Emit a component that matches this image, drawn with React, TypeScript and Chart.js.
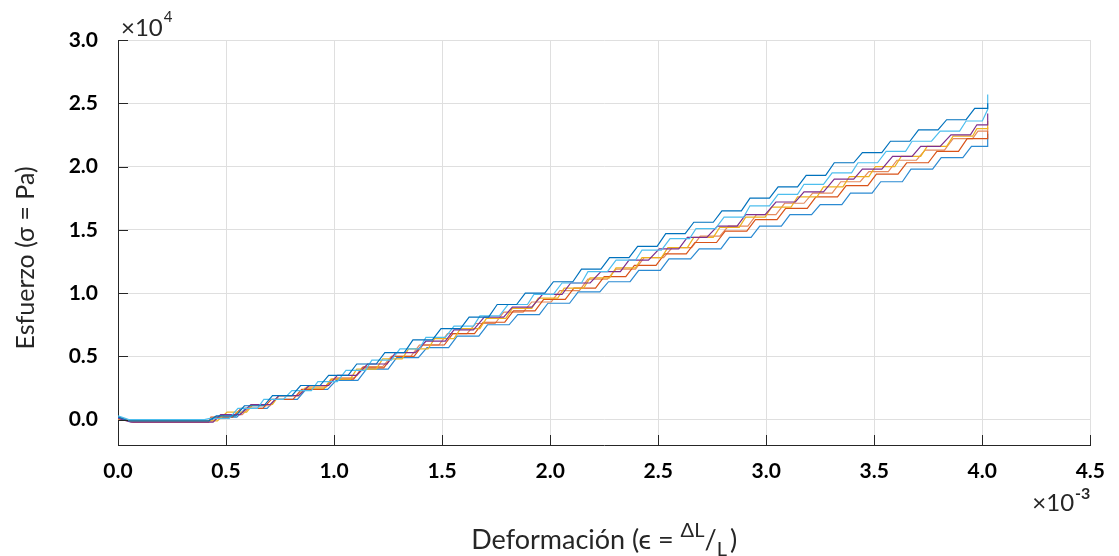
import React, { useEffect, useRef } from 'react';
import { Chart, registerables } from 'chart.js';

Chart.register(...registerables);

// Each step: [strainStart, strainEnd, stress]  (strain in 1e-3, stress in 1e4 Pa)
type Step = [number, number, number];

const seriesLabels = ['Ensayo 1', 'Ensayo 2', 'Ensayo 3', 'Ensayo 4', 'Ensayo 5', 'Ensayo 6', 'Ensayo 7'];
const seriesColors = ['#0072BD', '#4DBEEE', '#7E2F8E', '#EDB120', '#D95319', '#E58A5E', '#2B8AD2'];

const stepsA: Step[] = [
  [0, 0, 0.02], [0.05, 0.42, -0.01],
  [0.455, 0.545, 0.03], [0.585, 0.675, 0.11], [0.715, 0.805, 0.19], [0.845, 0.935, 0.27], [0.975, 1.065, 0.35],
  [1.105, 1.195, 0.44], [1.235, 1.325, 0.53], [1.365, 1.455, 0.63], [1.495, 1.585, 0.72], [1.625, 1.715, 0.81],
  [1.755, 1.845, 0.91], [1.885, 1.975, 1.0], [2.015, 2.105, 1.09], [2.145, 2.235, 1.19], [2.275, 2.365, 1.28],
  [2.405, 2.495, 1.37], [2.535, 2.625, 1.47], [2.665, 2.755, 1.56], [2.795, 2.885, 1.65], [2.925, 3.015, 1.75],
  [3.055, 3.145, 1.84], [3.185, 3.275, 1.93], [3.315, 3.405, 2.03], [3.445, 3.535, 2.11], [3.575, 3.665, 2.2],
  [3.705, 3.795, 2.29], [3.835, 3.925, 2.37], [3.965, 4.025, 2.46], [4.025, 4.025, 2.5],
];

const stepsB: Step[] = [
  [0, 0, 0.03], [0.05, 0.4, 0.0],
  [0.425, 0.515, 0.01], [0.555, 0.645, 0.09], [0.675, 0.765, 0.16], [0.805, 0.895, 0.23], [0.925, 1.015, 0.3],
  [1.055, 1.145, 0.39], [1.175, 1.265, 0.47], [1.305, 1.395, 0.56], [1.425, 1.515, 0.65], [1.555, 1.645, 0.74],
  [1.675, 1.765, 0.82], [1.805, 1.895, 0.91], [1.925, 2.015, 0.99], [2.055, 2.145, 1.08], [2.175, 2.265, 1.17],
  [2.305, 2.395, 1.26], [2.425, 2.515, 1.34], [2.555, 2.645, 1.43], [2.675, 2.765, 1.51], [2.805, 2.895, 1.6],
  [2.925, 3.015, 1.69], [3.055, 3.145, 1.78], [3.175, 3.265, 1.86], [3.305, 3.395, 1.95], [3.425, 3.515, 2.03],
  [3.555, 3.645, 2.12], [3.675, 3.765, 2.2], [3.805, 3.895, 2.28], [3.925, 4.0, 2.36], [4.025, 4.025, 2.45],
  [4.025, 4.025, 2.57],
];

const stepsC: Step[] = [
  [0, 0, 0.01], [0.06, 0.44, -0.02],
  [0.475, 0.565, 0.04], [0.615, 0.705, 0.12], [0.745, 0.835, 0.19], [0.885, 0.975, 0.27], [1.015, 1.105, 0.35],
  [1.155, 1.245, 0.44], [1.285, 1.375, 0.53], [1.425, 1.515, 0.62], [1.555, 1.645, 0.71], [1.695, 1.785, 0.81],
  [1.825, 1.915, 0.89], [1.965, 2.055, 0.99], [2.095, 2.185, 1.08], [2.235, 2.325, 1.17], [2.365, 2.455, 1.26],
  [2.505, 2.595, 1.35], [2.635, 2.725, 1.44], [2.775, 2.865, 1.53], [2.905, 2.995, 1.62], [3.045, 3.135, 1.72],
  [3.175, 3.265, 1.8], [3.315, 3.405, 1.9], [3.445, 3.535, 1.98], [3.585, 3.675, 2.08], [3.715, 3.805, 2.16],
  [3.855, 3.945, 2.25], [3.975, 4.025, 2.33], [4.025, 4.025, 2.42],
];

const stepsD: Step[] = [
  [0, 0, 0.0], [0.06, 0.46, -0.01],
  [0.505, 0.595, 0.06], [0.625, 0.715, 0.12], [0.745, 0.835, 0.19], [0.865, 0.955, 0.25], [0.985, 1.075, 0.32],
  [1.105, 1.195, 0.4], [1.225, 1.315, 0.48], [1.345, 1.435, 0.56], [1.465, 1.555, 0.64], [1.585, 1.675, 0.72],
  [1.705, 1.795, 0.8], [1.825, 1.915, 0.88], [1.945, 2.035, 0.96], [2.065, 2.155, 1.04], [2.185, 2.275, 1.12],
  [2.305, 2.395, 1.2], [2.425, 2.515, 1.28], [2.545, 2.635, 1.36], [2.665, 2.755, 1.44], [2.785, 2.875, 1.52],
  [2.905, 2.995, 1.6], [3.025, 3.115, 1.68], [3.145, 3.235, 1.76], [3.265, 3.355, 1.84], [3.385, 3.475, 1.92],
  [3.505, 3.595, 2.0], [3.625, 3.715, 2.08], [3.745, 3.835, 2.16], [3.865, 3.955, 2.24], [3.975, 4.025, 2.3],
  [4.025, 4.025, 2.36],
];

const stepsE: Step[] = [
  [0, 0, 0.01], [0.07, 0.42, -0.02],
  [0.43, 0.53, 0.02], [0.57, 0.67, 0.09], [0.71, 0.81, 0.16], [0.85, 0.95, 0.24], [0.99, 1.09, 0.32],
  [1.13, 1.23, 0.41], [1.27, 1.37, 0.5], [1.41, 1.51, 0.59], [1.55, 1.65, 0.68], [1.69, 1.79, 0.77],
  [1.83, 1.93, 0.86], [1.97, 2.07, 0.95], [2.11, 2.21, 1.04], [2.25, 2.35, 1.13], [2.39, 2.49, 1.22],
  [2.53, 2.63, 1.31], [2.67, 2.77, 1.4], [2.81, 2.91, 1.49], [2.95, 3.05, 1.58], [3.09, 3.19, 1.67],
  [3.23, 3.33, 1.76], [3.37, 3.47, 1.85], [3.51, 3.61, 1.94], [3.65, 3.75, 2.03], [3.79, 3.89, 2.12],
  [3.93, 4.025, 2.22], [4.025, 4.025, 2.28],
];

const stepsF: Step[] = [
  [0, 0, 0.02], [0.06, 0.44, -0.01],
  [0.485, 0.575, 0.04], [0.615, 0.705, 0.11], [0.745, 0.835, 0.19], [0.875, 0.965, 0.26], [1.005, 1.095, 0.33],
  [1.135, 1.225, 0.42], [1.265, 1.355, 0.5], [1.395, 1.485, 0.59], [1.525, 1.615, 0.68], [1.655, 1.745, 0.76],
  [1.785, 1.875, 0.85], [1.915, 2.005, 0.93], [2.045, 2.135, 1.02], [2.175, 2.265, 1.11], [2.305, 2.395, 1.19],
  [2.435, 2.525, 1.28], [2.565, 2.655, 1.36], [2.695, 2.785, 1.45], [2.825, 2.915, 1.53], [2.955, 3.045, 1.62],
  [3.085, 3.175, 1.71], [3.215, 3.305, 1.79], [3.345, 3.435, 1.88], [3.475, 3.565, 1.96], [3.605, 3.695, 2.05],
  [3.735, 3.825, 2.13], [3.865, 3.955, 2.22], [3.98, 4.025, 2.28], [4.025, 4.025, 2.31],
];

const stepsG: Step[] = [
  [0, 0, 0.02], [0.05, 0.43, -0.01],
  [0.45, 0.55, 0.02], [0.59, 0.69, 0.09], [0.73, 0.83, 0.16], [0.87, 0.97, 0.24], [1.01, 1.11, 0.31],
  [1.15, 1.25, 0.4], [1.29, 1.39, 0.49], [1.43, 1.53, 0.57], [1.57, 1.67, 0.66], [1.71, 1.81, 0.75],
  [1.85, 1.95, 0.83], [1.99, 2.09, 0.92], [2.13, 2.23, 1.01], [2.27, 2.37, 1.09], [2.41, 2.51, 1.18],
  [2.55, 2.65, 1.27], [2.69, 2.79, 1.35], [2.83, 2.93, 1.44], [2.97, 3.07, 1.53], [3.11, 3.21, 1.62],
  [3.25, 3.35, 1.7], [3.39, 3.49, 1.79], [3.53, 3.63, 1.88], [3.67, 3.77, 1.98], [3.81, 3.91, 2.07],
  [3.95, 4.025, 2.16], [4.025, 4.025, 2.26],
];

const allSteps: Step[][] = [stepsA, stepsB, stepsC, stepsD, stepsE, stepsF, stepsG];

const xTickValues = [0, 0.5, 1, 1.5, 2, 2.5, 3, 3.5, 4, 4.5];
const xTickLabels = ['0.0', '0.5', '1.0', '1.5', '2.0', '2.5', '3.0', '3.5', '4.0', '4.5'];
const yTickValues = [0, 0.5, 1, 1.5, 2, 2.5, 3];
const yTickLabels = ['0.0', '0.5', '1.0', '1.5', '2.0', '2.5', '3.0'];
const xRange = [0, 4.5];
const yRange = [-0.2, 3.0];

const xTitleMain = 'Deformación (ϵ = ';
const xTitleSup = 'ΔL';
const xTitleSlash = '/';
const xTitleSub = 'L';
const xTitleClose = ')';
const yTitle = 'Esfuerzo (σ = Pa)';
const yExponent = '4';
const xExponent = '-3';

const FONT = 'Lato, "Open Sans", sans-serif';
const TEXT = '#262626';

function toPoints(steps: Step[]) {
  const pts: { x: number; y: number }[] = [];
  for (const [x1, x2, y] of steps) {
    pts.push({ x: x1, y });
    if (x2 !== x1) pts.push({ x: x2, y });
  }
  return pts;
}

const decoPlugin = {
  id: 'deco',
  afterDraw(chart: any) {
    const { ctx, chartArea: ca, scales } = chart;
    const xs = scales.x;
    const ys = scales.y;
    ctx.save();
    // inward tick marks
    ctx.strokeStyle = TEXT;
    ctx.lineWidth = 1;
    xTickValues.forEach((v) => {
      const px = Math.round(xs.getPixelForValue(v)) + 0.5;
      ctx.beginPath();
      ctx.moveTo(px, ca.bottom);
      ctx.lineTo(px, ca.bottom - 10);
      ctx.stroke();
    });
    yTickValues.forEach((v) => {
      const py = Math.round(ys.getPixelForValue(v)) + 0.5;
      ctx.beginPath();
      ctx.moveTo(ca.left, py);
      ctx.lineTo(ca.left + 10, py);
      ctx.stroke();
    });

    ctx.fillStyle = TEXT;
    ctx.textBaseline = 'alphabetic';
    ctx.textAlign = 'left';

    // ×10^4 at top-left
    ctx.font = `24px ${FONT}`;
    let x = ca.left + 3;
    ctx.fillText('×10', x, ca.top - 4);
    x += ctx.measureText('×10').width + 1;
    ctx.font = `15px ${FONT}`;
    ctx.fillText(yExponent, x, ca.top - 18);

    // ×10^-3 at bottom-right
    ctx.font = `24px ${FONT}`;
    const w10 = ctx.measureText('×10').width;
    ctx.font = `bold 16px ${FONT}`;
    const wExp = ctx.measureText(xExponent).width;
    let bx = ca.right - wExp - w10 - 1;
    ctx.font = `24px ${FONT}`;
    ctx.fillText('×10', bx, 511);
    bx += w10 + 1;
    ctx.font = `bold 16px ${FONT}`;
    ctx.fillText(xExponent, bx, 499);

    // x title with super/subscript
    const base = 549;
    const mainF = `27px ${FONT}`;
    const smallF = `20px ${FONT}`;
    ctx.font = mainF;
    const wMain = ctx.measureText(xTitleMain).width;
    const wSlash = ctx.measureText(xTitleSlash).width;
    const wClose = ctx.measureText(xTitleClose).width;
    ctx.font = smallF;
    const wSup = ctx.measureText(xTitleSup).width;
    const wSub = ctx.measureText(xTitleSub).width;
    const total = wMain + wSup + wSlash + wSub + 3 + wClose;
    let tx = (ca.left + ca.right) / 2 - total / 2;
    ctx.font = mainF;
    ctx.fillText(xTitleMain, tx, base);
    tx += wMain;
    ctx.font = smallF;
    ctx.fillText(xTitleSup, tx, base - 12);
    tx += wSup;
    ctx.font = mainF;
    ctx.fillText(xTitleSlash, tx, base);
    tx += wSlash;
    ctx.font = smallF;
    ctx.fillText(xTitleSub, tx, base + 7);
    tx += wSub + 3;
    ctx.font = mainF;
    ctx.fillText(xTitleClose, tx, base);

    // y title rotated
    ctx.translate(26, 258);
    ctx.rotate(-Math.PI / 2);
    ctx.textAlign = 'center';
    ctx.textBaseline = 'middle';
    ctx.font = `25px ${FONT}`;
    ctx.fillText(yTitle, 0, 0);
    ctx.restore();
  },
};

export default function App() {
  const canvasRef = useRef<HTMLCanvasElement | null>(null);

  useEffect(() => {
    const canvas = canvasRef.current;
    if (!canvas) return;
    const chart = new Chart(canvas, {
      type: 'line',
      data: {
        datasets: allSteps.map((steps, i) => ({
          label: seriesLabels[i],
          data: toPoints(steps),
          borderColor: seriesColors[i],
          borderWidth: 1.2,
          pointRadius: 0,
          fill: false,
          tension: 0,
        })),
      },
      options: {
        animation: false,
        responsive: false,
        layout: { padding: { top: 40, right: 25, left: 0, bottom: 0 } },
        plugins: { legend: { display: false }, tooltip: { enabled: false }, title: { display: false } },
        scales: {
          x: {
            type: 'linear',
            min: xRange[0],
            max: xRange[1],
            afterBuildTicks: (s: any) => {
              s.ticks = xTickValues.map((v) => ({ value: v }));
            },
            afterFit: (s: any) => {
              s.height = 111;
            },
            ticks: {
              callback: (_v: any, i: number) => xTickLabels[i],
              font: { family: FONT, size: 21, weight: 'bold' },
              color: '#000',
              padding: 14,
              maxRotation: 0,
              autoSkip: false,
            },
            grid: { color: '#dfdfdf', lineWidth: 1, drawTicks: false },
            border: { display: true, color: TEXT, width: 1 },
          },
          y: {
            type: 'linear',
            min: yRange[0],
            max: yRange[1],
            afterBuildTicks: (s: any) => {
              s.ticks = yTickValues.map((v) => ({ value: v }));
            },
            afterFit: (s: any) => {
              s.width = 118;
            },
            ticks: {
              callback: (_v: any, i: number) => yTickLabels[i],
              font: { family: FONT, size: 21, weight: 'bold' },
              color: '#000',
              padding: 20,
              autoSkip: false,
            },
            grid: { color: '#dfdfdf', lineWidth: 1, drawTicks: false },
            border: { display: true, color: TEXT, width: 1 },
          },
        },
      },
      plugins: [decoPlugin],
    });
    return () => chart.destroy();
  }, []);

  return (
    <div style={{ position: 'fixed', left: 0, top: 0, width: 1119, height: 556, background: '#fff' }}>
      <canvas ref={canvasRef} width={1119} height={556} style={{ display: 'block', width: 1119, height: 556 }} />
    </div>
  );
}
